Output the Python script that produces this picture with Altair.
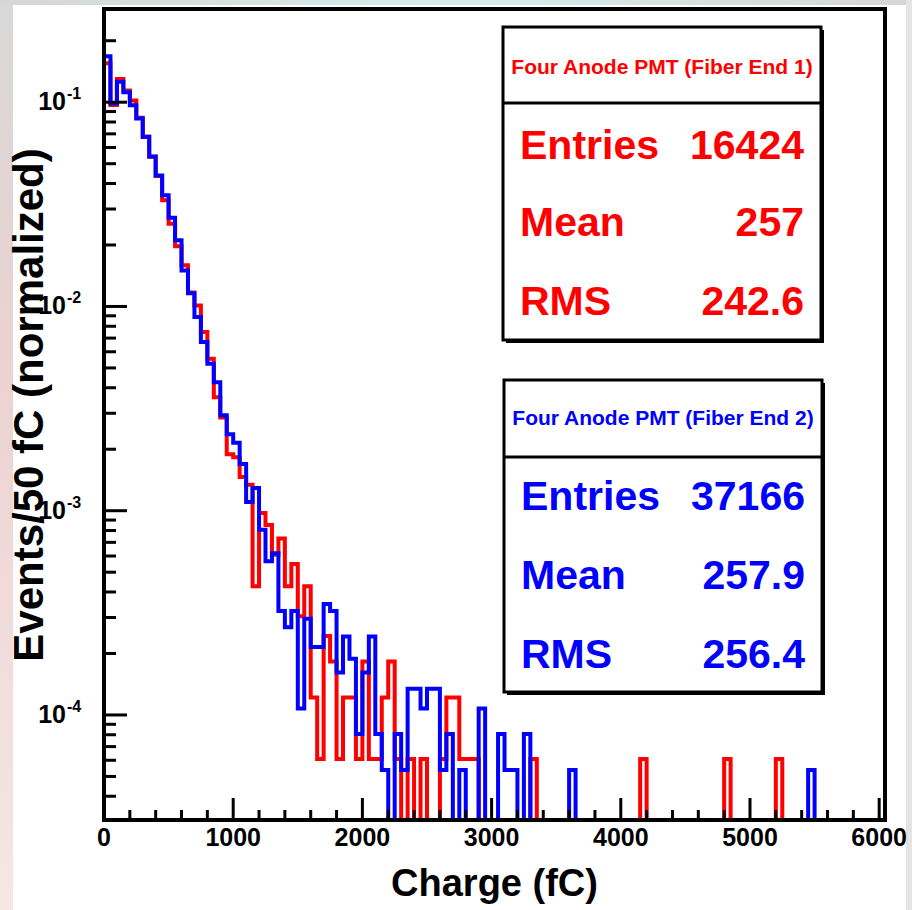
import altair as alt
import pandas as pd

# ---------------- data ----------------
BIN_WIDTH = 50
ENTRIES_RED = 16424
ENTRIES_BLUE = 37166

red_counts = [
    2546, 1593, 2135, 1872, 1675, 1380, 1117, 887, 714, 544,
    417, 324, 261, 192, 166, 123, 91, 59, 47, 31,
    30, 24, 22, 7, 16, 14, 10, 12, 7, 9,
    5, 7, 2, 1, 4, 3, 1, 2, 2, 1,
    3, 1, 1, 2, 3, 1, 0, 1, 0, 1,
    0, 0, 1, 2, 2, 1, 1, 1, 0, 0,
    0, 0, 0, 0, 0, 0, 1, 0, 0, 0,
    0, 0, 0, 0, 0, 0, 0, 0, 0, 0,
    0, 0, 0, 1, 0, 0, 0, 0, 0, 0,
    0, 0, 0, 0, 0, 0, 1, 0, 0, 0,
    0, 0, 0, 0, 1, 0, 0, 0, 0, 0,
    0, 0, 0, 0, 0, 0, 0, 0, 0, 0,
]

blue_counts = [
    6244, 3661, 4683, 4163, 3594, 3092, 2512, 2018, 1628, 1301,
    1011, 784, 557, 431, 330, 249, 195, 158, 109, 88,
    80, 63, 41, 48, 30, 21, 23, 12, 10, 12,
    4, 11, 8, 8, 13, 12, 6, 9, 7, 3,
    6, 9, 3, 2, 1, 3, 2, 5, 5, 4,
    5, 5, 2, 3, 1, 2, 1, 0, 4, 1,
    0, 3, 2, 2, 1, 3, 0, 0, 1, 0,
    1, 0, 2, 0, 0, 0, 1, 0, 0, 0,
    0, 0, 0, 1, 0, 0, 0, 0, 1, 0,
    0, 0, 0, 0, 1, 0, 0, 0, 0, 0,
    0, 1, 0, 0, 0, 0, 0, 0, 0, 2,
    0, 0, 0, 0, 0, 0, 0, 0, 0, 0,
]

x_tick_values = [0, 1000, 2000, 3000, 4000, 5000, 6000]
x_tick_labels = ["0", "1000", "2000", "3000", "4000", "5000", "6000"]
y_decades = [1e-1, 1e-2, 1e-3, 1e-4]
y_exponents = ["-1", "-2", "-3", "-4"]

box1_title = "Four Anode PMT (Fiber End 1)"
box1_labels = ["Entries", "Mean", "RMS"]
box1_values = ["16424", "257", "242.6"]
box2_title = "Four Anode PMT (Fiber End 2)"
box2_labels = ["Entries", "Mean", "RMS"]
box2_values = ["37166", "257.9", "256.4"]

x_title = "Charge (fC)"
y_title = "Events/50 fC (normalized)"

# ---------------- layout ----------------
W, H = 781, 811
X_DOMAIN = [0, 6045]
Y_DOMAIN = [3.06e-5, 0.286]
FONT = "Liberation Sans"
RED = "#ff0000"
BLUE = "#0000ff"

xs = alt.Scale(domain=X_DOMAIN, nice=False, zero=False)
ys = alt.Scale(type="log", domain=Y_DOMAIN, nice=False)
one = pd.DataFrame({"a": [0]})


def hist_frame(counts, entries):
    rows = []
    for i, c in enumerate(counts):
        v = c / entries if c > 0 else 1e-7
        rows.append({"x": i * BIN_WIDTH, "y": v})
    last = counts[-1] / entries if counts[-1] > 0 else 1e-7
    rows.append({"x": len(counts) * BIN_WIDTH, "y": last})
    return pd.DataFrame(rows)


def hist_layer(counts, entries, color):
    return alt.Chart(hist_frame(counts, entries)).mark_line(
        interpolate="step-after", strokeWidth=4, clip=True,
        strokeJoin="miter", color=color
    ).encode(
        x=alt.X("x:Q", scale=xs, axis=None),
        y=alt.Y("y:Q", scale=ys, axis=None),
    )


def grad(stops, vertical=True):
    return alt.LinearGradient(
        gradient="linear",
        stops=[alt.GradientStop(color=c, offset=o) for o, c in stops],
        x1=0, x2=0 if vertical else 1, y1=0, y2=1 if vertical else 0)


layers = []
# slide border strips
layers.append(alt.Chart(one).mark_rect(color=grad(
    [(0, "#d8d8d8"), (0.4, "#ecd2d2"), (1, "#f6e6e6")])).encode(
    x=alt.value(-104), x2=alt.value(-91), y=alt.value(-9), y2=alt.value(901)))
layers.append(alt.Chart(one).mark_rect(color=grad(
    [(0, "#d6d6d6"), (0.5, "#d6ecec"), (1, "#d6d6d6")], vertical=False)).encode(
    x=alt.value(-104), x2=alt.value(808), y=alt.value(-9), y2=alt.value(-4)))
layers.append(alt.Chart(one).mark_rect(color="#e4e4e4").encode(
    x=alt.value(802), x2=alt.value(808), y=alt.value(-9), y2=alt.value(901)))

layers.append(hist_layer(red_counts, ENTRIES_RED, RED))
layers.append(hist_layer(blue_counts, ENTRIES_BLUE, BLUE))

# inward ticks
x_minor = [v for v in range(200, 6001, 200) if v % 1000 != 0]
y_minor = []
for d in range(-6, 0):
    for k in range(2, 10):
        v = k * 10 ** d
        if Y_DOMAIN[0] <= v <= Y_DOMAIN[1]:
            y_minor.append(v)

layers.append(alt.Chart(pd.DataFrame({"v": x_tick_values})).mark_rule(
    color="black", strokeWidth=3).encode(
    x=alt.X("v:Q", scale=xs, axis=None), y=alt.value(H), y2=alt.value(H - 22)))
layers.append(alt.Chart(pd.DataFrame({"v": x_minor})).mark_rule(
    color="black", strokeWidth=3).encode(
    x=alt.X("v:Q", scale=xs, axis=None), y=alt.value(H), y2=alt.value(H - 10)))
layers.append(alt.Chart(pd.DataFrame({"v": y_decades})).mark_rule(
    color="black", strokeWidth=3).encode(
    y=alt.Y("v:Q", scale=ys, axis=None), x=alt.value(0), x2=alt.value(23)))
layers.append(alt.Chart(pd.DataFrame({"v": y_minor})).mark_rule(
    color="black", strokeWidth=3).encode(
    y=alt.Y("v:Q", scale=ys, axis=None), x=alt.value(0), x2=alt.value(12)))

# x labels
xlab = pd.DataFrame({"v": x_tick_values, "t": x_tick_labels})
layers.append(alt.Chart(xlab).mark_text(
    align="center", baseline="middle", font=FONT, fontSize=25,
    fontWeight="bold", color="black").encode(
    x=alt.X("v:Q", scale=xs, axis=None), y=alt.value(H + 18), text="t:N"))

# y labels 10^n
ylab = pd.DataFrame({"v": y_decades, "e": y_exponents, "b": ["10"] * 4})
layers.append(alt.Chart(ylab).mark_text(
    align="right", baseline="middle", font=FONT, fontSize=25,
    fontWeight="bold", color="black").encode(
    y=alt.Y("v:Q", scale=ys, axis=None), x=alt.value(-38), text="b:N"))
layers.append(alt.Chart(ylab).mark_text(
    align="left", baseline="middle", font=FONT, fontSize=16,
    fontWeight="bold", color="black", dy=-8).encode(
    y=alt.Y("v:Q", scale=ys, axis=None), x=alt.value(-37), text="e:N"))

# frame
layers.append(alt.Chart(one).mark_rect(
    filled=False, stroke="black", strokeWidth=4).encode(
    x=alt.value(0), x2=alt.value(W), y=alt.value(0), y2=alt.value(H)))


def text_layer(txt, x, y, size, color, align="center", angle=0):
    props = dict(align=align, baseline="middle", font=FONT, fontSize=size,
                 fontWeight="bold", color=color)
    if angle:
        props["angle"] = angle
    return alt.Chart(pd.DataFrame({"t": [txt]})).mark_text(**props).encode(
        text="t:N", x=alt.value(x), y=alt.value(y))


def stat_box(title, labels, values, color, L, R, T, B, S, title_y, rows_y):
    out = []
    out.append(alt.Chart(one).mark_rect(color="black").encode(
        x=alt.value(L + 3), x2=alt.value(R + 3), y=alt.value(T + 3), y2=alt.value(B + 3)))
    out.append(alt.Chart(one).mark_rect(fill="white", stroke="black", strokeWidth=3).encode(
        x=alt.value(L), x2=alt.value(R), y=alt.value(T), y2=alt.value(B)))
    out.append(alt.Chart(one).mark_rule(color="black", strokeWidth=3).encode(
        x=alt.value(L), x2=alt.value(R), y=alt.value(S)))
    out.append(text_layer(title, (L + R) / 2, title_y, 21, color))
    for lab, val, yy in zip(labels, values, rows_y):
        out.append(text_layer(lab, L + 17, yy, 41, color, align="left"))
        out.append(text_layer(val, R - 17, yy, 41, color, align="right"))
    return out


layers += stat_box(box1_title, box1_labels, box1_values, RED,
                   399, 717, 18, 331, 94, 59, [138, 215, 294])
layers += stat_box(box2_title, box2_labels, box2_values, BLUE,
                   400, 718, 371, 683, 448, 410, [489, 568, 647])

# axis titles
layers.append(text_layer(x_title, W / 2, 876, 38, "black"))
layers.append(text_layer(y_title, -74, 396, 42, "black", angle=270))

chart = alt.layer(*layers).properties(
    width=W, height=H,
    autosize=alt.AutoSizeParams(type="none"),
    padding={"left": 104, "top": 9, "right": 27, "bottom": 90},
    background="white",
).configure_view(stroke=None)

chart.save("out.html", embed_options={"renderer": "svg", "actions": False})
